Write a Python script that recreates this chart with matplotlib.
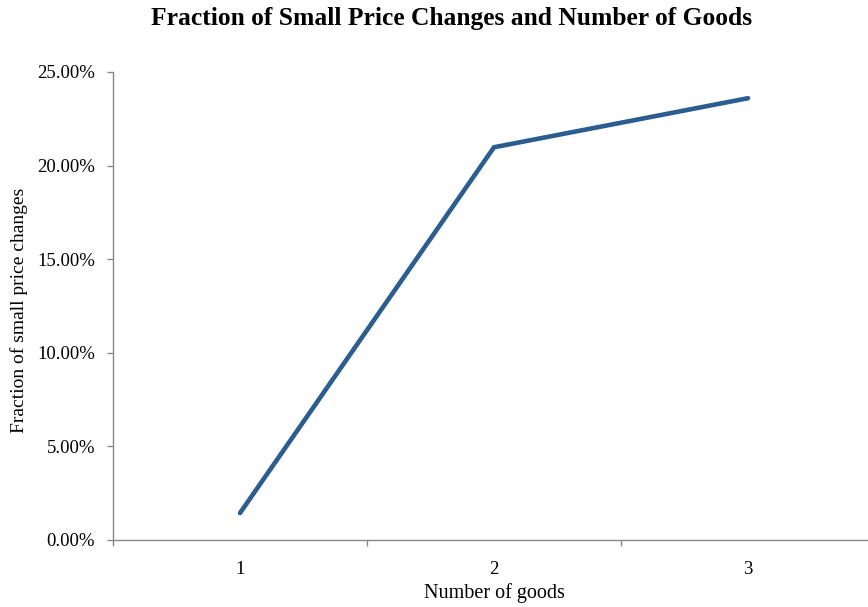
import matplotlib
matplotlib.use("Agg")
import matplotlib.pyplot as plt
from matplotlib.ticker import FuncFormatter, FixedLocator

categories = ["1", "2", "3"]
values = [0.0144, 0.2098, 0.2360]
yticks = [0.0, 0.05, 0.10, 0.15, 0.20, 0.25]

plt.rcParams['font.family'] = ['Liberation Serif', 'DejaVu Serif']

W, H = 868, 607
fig = plt.figure(figsize=(W/100, H/100), dpi=100)
left, right, top, bottom = 113, 875, 72, 540
ax = fig.add_axes([left/W, (H-bottom)/H, (right-left)/W, (bottom-top)/H])

x = list(range(len(categories)))
ax.plot(x, values, color='#2B5D91', linewidth=3.3, solid_capstyle='round', solid_joinstyle='miter')

ax.set_xlim(-0.5, len(categories)-0.5)
ax.set_ylim(0, 0.25)
ax.set_yticks(yticks)
ax.yaxis.set_major_formatter(FuncFormatter(lambda v, p: f"{v*100:.2f}%"))
ax.set_xticks(x)
ax.set_xticklabels(categories)
ax.xaxis.set_minor_locator(FixedLocator([i - 0.5 for i in range(len(categories)+1)]))

for s in ['top', 'right']:
    ax.spines[s].set_visible(False)
for s in ['left', 'bottom']:
    ax.spines[s].set_color('#888888')
    ax.spines[s].set_linewidth(1.0)

ax.tick_params(axis='y', direction='out', length=4, width=1, color='#888888', pad=9, labelsize=13.5)
ax.tick_params(axis='x', which='major', length=0, pad=15, labelsize=13.5)
ax.tick_params(axis='x', which='minor', direction='out', length=4, width=1, color='#888888')

ax.set_xlabel("Number of goods", fontsize=14.5, labelpad=4)
ax.set_ylabel("Fraction of small price changes", fontsize=14)
ax.yaxis.set_label_coords((28 - left) / (right - left), 0.49)
fig.text(452/W, 1 - 18/H, "Fraction of Small Price Changes and Number of Goods",
         ha='center', va='center', fontsize=18.4, fontweight='bold')

fig.savefig("out.png", dpi=100)
